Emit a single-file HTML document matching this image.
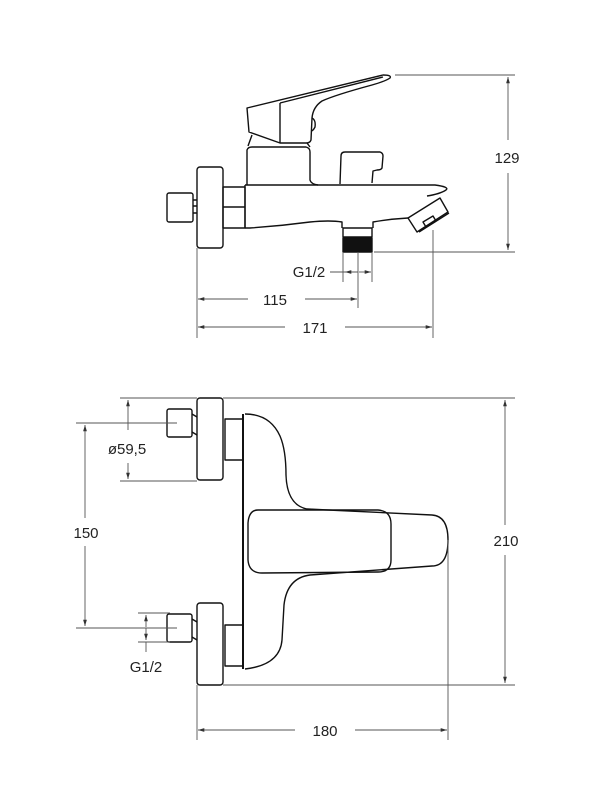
<!DOCTYPE html>
<html><head><meta charset="utf-8"><style>
html,body{margin:0;padding:0;background:#fff;}
svg{display:block;}
text{font-family:"Liberation Sans",sans-serif;font-size:15px;fill:#222;}
</style></head><body>
<svg width="600" height="800" viewBox="0 0 600 800" xmlns="http://www.w3.org/2000/svg">
<defs>
<marker id="a" viewBox="0 0 10 10" refX="10" refY="5" markerWidth="7" markerHeight="7" orient="auto-start-reverse"><path d="M0,2 L10,5 L0,8 z" fill="#333"/></marker>
</defs>
<g fill="none" stroke="#111" stroke-width="1.4" stroke-linejoin="round">
<!-- TOP VIEW -->
<!-- handle -->
<path d="M247,108 L383,75 Q392,75 390,78 Q386,81 372,85 Q335,95 322,101 Q313,107 312,118 L311,140 Q310,143 306,143 L280,143 L249,132 Z"/>
<path d="M280,103 L383,77"/>
<path d="M280,103 L280,143"/>
<path d="M312,118 Q316,120 315,127 Q313,131 311,131"/>
<path d="M252,135 L248,146 M307,143 L310,147"/>
<!-- collar -->
<path d="M247,185 L247,150 Q248,147 252,147 L306,147 Q310,148 310,152 L310,180 Q311,184 318,185"/>
<!-- diverter -->
<path d="M340,184 L341,156 Q341,152 345,152 L380,152 Q383,153 383,156 L382,168 Q381,170 377,170 L373,171 L372,183"/>
<!-- spout body -->
<path d="M245,185 L435,185 Q450,187 446,190 Q440,194 427,196"/>
<path d="M245,228 L250,228 Q280,226 310,222 Q330,220 342,222 L342,228"/>
<path d="M373,228 L373,222 Q390,219 408,218"/>
<path d="M245,185 L245,228"/>
<!-- outlet -->
<path d="M343,228 L372,228 L372,237 L343,237 Z"/>
<rect x="343" y="238" width="29" height="14" fill="#111"/>
<!-- aerator -->
<path d="M408,218 L440,198 L448,212 L417,232 Z"/>
<path d="M423,222 L433,216 L436,221 L426,227 Z"/>
<path d="M419,232 L449,213"/>
<!-- connector -->
<rect x="223" y="187" width="22" height="41"/>
<path d="M223,207 L245,207"/>
<!-- escutcheon -->
<rect x="197" y="167" width="26" height="81" rx="3"/>
<!-- nut -->
<rect x="167" y="193" width="26" height="29" rx="2"/>
<path d="M193,200 L197,200 M193,213 L197,213 M193,206 L197,206"/>

<!-- BOTTOM VIEW -->
<rect x="197" y="398" width="26" height="82" rx="3"/>
<rect x="197" y="603" width="26" height="82" rx="3"/>
<rect x="225" y="419" width="18" height="41"/>
<rect x="225" y="625" width="18" height="41"/>
<rect x="167" y="409" width="25" height="28" rx="2"/>
<rect x="167" y="614" width="25" height="28" rx="2"/>
<path d="M192,414 L197,417 M192,432 L197,435 M192,619 L197,622 M192,637 L197,640"/>
<path d="M243,414 L243,669" stroke-width="2"/>
<path d="M245,414 Q270,414 280,436 Q286,450 286,475 Q287,505 307,509 L432,515 Q448,516 448,540 Q448,566 432,566 L310,575 Q287,578 284,605 L282,640 Q280,665 245,669"/>
<path d="M258,510 L378,510 Q391,511 391,524 L391,560 Q391,572 378,572 L262,573 Q249,573 248,560 L248,523 Q249,510 258,510 Z"/>
</g>

<g fill="none" stroke="#555" stroke-width="0.9">
<!-- top dims -->
<path d="M395,75 L515,75 M374,252 L515,252"/>
<path d="M508,77 L508,140 M508,173 L508,250" marker-start="url(#a)" marker-end="url(#a)"/>
<path d="M343,252 L343,282 M372,252 L372,282 M358,252 L358,308"/>
<path d="M330,272 L343,272 M343,272 L358,272" />
<path d="M345,272 L357,272" marker-start="url(#a)"/>
<path d="M359,272 L371,272" marker-end="url(#a)"/>
<path d="M197,248 L197,338 M433,230 L433,338"/>
<path d="M198,299 L248,299" marker-start="url(#a)"/>
<path d="M305,299 L357,299" marker-end="url(#a)"/>
<path d="M198,327 L285,327" marker-start="url(#a)"/>
<path d="M345,327 L432,327" marker-end="url(#a)"/>
<!-- bottom dims -->
<path d="M120,398 L197,398 M120,481 L197,481 M76,423 L177,423 M76,628 L177,628 M138,613 L170,613 M138,642 L170,642"/>
<path d="M128,400 L128,430" marker-start="url(#a)"/>
<path d="M128,463 L128,479" marker-end="url(#a)"/>
<path d="M85,425 L85,518 M85,546 L85,626" marker-start="url(#a)" marker-end="url(#a)"/>
<path d="M146,615 L146,627" marker-start="url(#a)"/>
<path d="M146,628 L146,640" marker-end="url(#a)"/>
<path d="M146,642 L146,652"/>
<path d="M223,398 L515,398 M223,685 L515,685"/>
<path d="M505,400 L505,525 M505,555 L505,683" marker-start="url(#a)" marker-end="url(#a)"/>
<path d="M197,685 L197,740 M448,540 L448,740"/>
<path d="M198,730 L295,730" marker-start="url(#a)"/>
<path d="M355,730 L447,730" marker-end="url(#a)"/>
</g>

<g text-anchor="middle">
<text x="507" y="163">129</text>
<text x="309" y="277">G1/2</text>
<text x="275" y="305">115</text>
<text x="315" y="333">171</text>
<text x="127" y="454">ø59,5</text>
<text x="86" y="538">150</text>
<text x="146" y="672">G1/2</text>
<text x="506" y="546">210</text>
<text x="325" y="736">180</text>
</g>
</svg>
</body></html>
